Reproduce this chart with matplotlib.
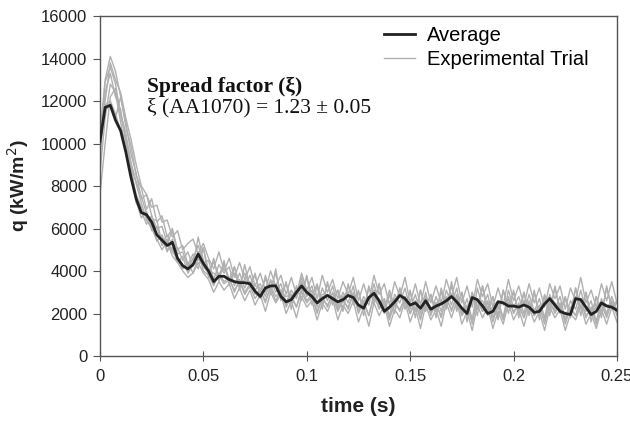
import numpy as np
import matplotlib
matplotlib.use("Agg")
import matplotlib.pyplot as plt

# heat flux in 1000 kW/m2, sampled every 0.0025 s from 0 to 0.25 s
average = [10.1, 11.7, 11.8, 11.1, 10.6, 9.6, 8.4, 7.4, 6.75, 6.65,
           6.3, 5.7, 5.45, 5.2, 5.35, 4.6, 4.25, 4.1, 4.3, 4.8,
           4.35, 4.0, 3.5, 3.75, 3.75, 3.6, 3.5, 3.45, 3.45, 3.4,
           3.05, 2.8, 3.2, 3.3, 3.3, 2.8, 2.55, 2.65, 3.0, 3.3,
           3.0, 2.8, 2.5, 2.7, 2.85, 2.7, 2.55, 2.65, 2.85, 2.75,
           2.4, 2.25, 2.75, 2.95, 2.6, 2.1, 2.3, 2.55, 2.85, 2.7,
           2.4, 2.5, 2.25, 2.6, 2.2, 2.35, 2.45, 2.6, 2.8, 2.55,
           2.25, 2.0, 2.75, 2.65, 2.35, 2.0, 2.1, 2.55, 2.5, 2.35,
           2.35, 2.3, 2.4, 2.3, 2.05, 2.1, 2.45, 2.7, 2.4, 2.1,
           2.0, 1.95, 2.7, 2.65, 2.3, 1.95, 2.1, 2.5, 2.35, 2.3, 2.15]

trial_a = [10.4, 13.0, 14.1, 13.4, 12.2, 11.0, 9.5, 8.6, 7.4, 7.6, 6.6, 6.0, 6.1, 5.3, 5.9, 4.8, 4.9, 4.2, 4.6, 5.2,
           4.4, 4.5, 3.6, 4.3, 3.9, 4.2, 3.3, 3.9, 3.2, 3.8, 3.1, 3.4, 2.8, 3.6, 3.0, 3.4, 2.5, 3.1, 2.7, 3.7,
           2.9, 3.3, 2.3, 3.2, 2.6, 3.3, 2.3, 3.0, 2.5, 3.3, 2.1, 2.8, 2.4, 3.4, 2.4, 2.7, 1.9, 2.9, 2.5, 3.2,
           2.2, 2.9, 2.0, 3.0, 1.9, 2.8, 2.1, 3.1, 2.4, 3.2, 2.0, 2.7, 1.7, 3.2, 2.3, 2.9, 1.8, 2.6, 1.8, 3.1,
           2.3, 2.8, 2.0, 2.9, 2.1, 2.7, 1.8, 2.9, 2.2, 2.8, 1.7, 2.6, 2.2, 3.1, 2.1, 2.6, 1.6, 2.7, 2.0, 2.8, 2.1]
trial_b = [7.6, 10.0, 12.2, 12.6, 11.4, 10.5, 9.0, 8.1, 7.2, 6.4, 6.0, 5.5, 5.0, 5.4, 4.7, 4.4, 4.0, 3.7, 3.9, 4.4,
           3.9, 3.6, 3.0, 3.5, 3.1, 3.4, 2.7, 3.2, 2.6, 3.1, 2.4, 2.9, 2.1, 3.0, 2.5, 2.9, 2.0, 2.6, 1.8, 2.8,
           2.3, 2.6, 1.7, 2.5, 2.1, 2.7, 1.7, 2.4, 2.0, 2.6, 1.6, 2.3, 1.4, 2.5, 1.9, 2.4, 1.4, 2.2, 1.8, 2.6,
           1.6, 2.3, 1.3, 2.4, 1.7, 2.2, 1.4, 2.5, 1.8, 2.6, 1.5, 2.1, 1.2, 2.4, 1.8, 2.3, 1.3, 2.1, 1.5, 2.5,
           1.7, 2.2, 1.4, 2.3, 1.6, 2.1, 1.2, 2.3, 1.8, 2.2, 1.2, 2.0, 1.7, 2.4, 1.5, 2.0, 1.3, 2.2, 1.5, 2.3, 1.6]
trial_c = [9.8, 12.4, 13.3, 12.2, 11.6, 10.0, 8.9, 7.2, 6.8, 6.2, 6.6, 5.7, 5.6, 4.9, 5.5, 4.6, 4.3, 4.0, 4.6, 4.1,
           5.1, 3.7, 4.6, 3.5, 4.5, 3.3, 4.2, 3.1, 4.3, 3.2, 3.9, 2.7, 3.8, 2.9, 4.1, 2.6, 3.5, 2.2, 3.3, 2.6,
           3.8, 2.4, 3.3, 2.2, 3.5, 2.4, 3.1, 2.1, 3.4, 2.4, 3.1, 1.9, 3.3, 2.4, 3.4, 2.0, 2.9, 2.0, 3.2, 2.2,
           3.1, 1.8, 3.1, 2.1, 2.9, 1.8, 3.2, 2.2, 3.5, 2.1, 3.0, 1.6, 3.0, 1.9, 3.3, 1.9, 2.8, 1.7, 3.1, 2.0,
           3.1, 1.8, 3.0, 1.9, 3.1, 1.7, 2.8, 1.9, 3.3, 2.0, 2.7, 1.8, 3.2, 1.9, 3.0, 1.6, 2.8, 1.8, 3.3, 2.2, 2.5]
trial_d = [10.7, 11.5, 11.9, 11.2, 12.2, 10.8, 9.9, 8.5, 7.9, 6.9, 7.4, 6.3, 6.6, 5.6, 6.0, 5.0, 5.2, 4.3, 4.8, 4.5,
           5.1, 4.0, 4.4, 3.8, 4.3, 3.6, 4.2, 3.4, 3.9, 3.3, 3.8, 3.0, 3.6, 3.2, 3.9, 2.9, 3.4, 2.7, 3.2, 3.0,
           3.7, 2.8, 3.4, 2.5, 3.4, 2.6, 3.1, 2.5, 3.3, 2.7, 3.0, 2.2, 3.2, 2.6, 3.4, 2.2, 3.1, 2.3, 3.2, 2.5,
           3.0, 2.1, 3.1, 2.3, 2.9, 2.1, 3.0, 2.3, 3.3, 2.3, 3.0, 1.9, 3.0, 2.2, 3.3, 2.2, 2.8, 1.9, 3.1, 2.3,
           3.0, 2.0, 3.0, 2.1, 3.0, 1.9, 2.9, 2.2, 3.2, 2.2, 2.8, 2.0, 3.2, 2.2, 3.0, 1.9, 2.8, 2.0, 3.2, 2.3, 2.6]
trial_e = [8.6, 11.2, 12.8, 12.4, 11.0, 9.6, 8.7, 7.6, 7.0, 6.5, 6.1, 5.4, 5.7, 5.0, 5.1, 4.4, 4.7, 3.9, 4.3, 4.9,
           4.0, 3.8, 3.3, 3.9, 3.5, 3.7, 3.0, 3.6, 3.0, 3.4, 2.9, 3.1, 2.5, 3.3, 2.8, 3.1, 2.4, 2.9, 2.3, 3.2,
           2.6, 2.9, 2.0, 2.8, 2.3, 3.0, 2.2, 2.7, 2.2, 3.0, 2.0, 2.6, 1.9, 2.9, 2.2, 2.6, 1.7, 2.6, 2.1, 2.8,
           2.0, 2.6, 1.7, 2.7, 2.0, 2.5, 1.8, 2.8, 2.1, 2.9, 1.9, 2.4, 1.5, 2.7, 2.1, 2.6, 1.6, 2.4, 1.7, 2.8,
           2.0, 2.5, 1.8, 2.6, 1.9, 2.4, 1.5, 2.6, 2.0, 2.5, 1.5, 2.3, 1.9, 2.7, 1.8, 2.3, 1.5, 2.5, 1.8, 2.6, 1.9]
trial_f = [10.0, 12.9, 13.6, 12.8, 11.3, 10.3, 9.1, 8.2, 7.5, 6.7, 6.4, 6.4, 5.3, 5.7, 5.2, 5.1, 4.5, 4.9, 4.2, 5.6,
           4.5, 4.0, 3.9, 3.7, 4.4, 3.5, 3.9, 3.3, 3.6, 3.5, 3.3, 3.2, 3.0, 3.5, 3.3, 3.0, 2.8, 2.9, 2.8, 3.5,
           2.8, 3.1, 2.5, 2.9, 2.9, 2.8, 2.5, 2.8, 2.9, 2.7, 2.3, 2.6, 2.7, 3.1, 2.6, 2.4, 2.2, 2.7, 2.8, 2.8,
           2.3, 2.6, 2.2, 2.8, 2.2, 2.5, 2.5, 2.7, 2.9, 2.6, 2.2, 2.1, 2.9, 2.6, 2.6, 2.1, 2.3, 2.6, 2.5, 2.5,
           2.4, 2.2, 2.6, 2.3, 2.2, 2.2, 2.6, 2.8, 2.5, 2.2, 2.0, 2.2, 2.8, 2.7, 2.3, 2.0, 2.3, 2.6, 2.4, 2.4, 2.2]
trial_g = [10.2, 11.8, 12.0, 11.4, 10.6, 10.2, 8.9, 7.3, 6.5, 6.8, 5.9, 6.1, 5.2, 5.5, 4.9, 4.6, 4.1, 4.4, 3.9, 4.6,
           4.2, 3.9, 3.4, 3.8, 3.4, 3.6, 3.1, 3.5, 2.9, 3.3, 2.7, 3.1, 2.6, 3.2, 2.6, 3.1, 2.3, 2.8, 2.3, 3.0,
           2.5, 2.8, 2.1, 2.7, 2.4, 2.8, 2.1, 2.6, 2.3, 2.9, 2.1, 2.5, 1.9, 2.8, 2.3, 2.5, 1.8, 2.4, 2.2, 2.7,
           2.0, 2.5, 1.8, 2.6, 2.0, 2.4, 1.9, 2.7, 2.2, 2.7, 1.9, 2.3, 1.7, 2.6, 2.1, 2.5, 1.8, 2.3, 1.8, 2.7,
           2.1, 2.4, 1.8, 2.5, 1.9, 2.3, 1.7, 2.5, 2.1, 2.4, 1.7, 2.2, 1.9, 2.6, 1.9, 2.2, 1.6, 2.4, 1.9, 2.5, 2.0]
trial_h = [9.3, 12.0, 13.8, 13.0, 12.4, 11.2, 10.2, 9.0, 8.0, 7.6, 7.0, 7.1, 6.3, 6.4, 5.6, 5.9, 5.0, 5.3, 5.5, 4.8,
           5.3, 4.6, 4.1, 4.9, 4.0, 4.6, 3.7, 4.4, 3.6, 4.2, 3.3, 3.9, 3.1, 4.0, 3.3, 3.8, 2.9, 3.7, 2.9, 3.9,
           3.1, 3.7, 2.7, 3.8, 3.0, 3.6, 2.7, 3.5, 2.9, 3.7, 2.6, 3.4, 2.6, 3.8, 2.9, 3.4, 2.4, 3.5, 2.8, 3.7,
           2.5, 3.4, 2.4, 3.5, 2.5, 3.3, 2.5, 3.6, 2.8, 3.7, 2.5, 3.3, 2.3, 3.6, 2.8, 3.4, 2.3, 3.2, 2.4, 3.6,
           2.6, 3.3, 2.4, 3.4, 2.5, 3.2, 2.3, 3.4, 2.7, 3.3, 2.2, 3.2, 2.6, 3.7, 2.5, 3.1, 2.3, 3.4, 2.6, 3.5, 2.5]

trials = [trial_a, trial_b, trial_c, trial_d, trial_e, trial_f, trial_g, trial_h]

x_ticks = [0, 0.05, 0.1, 0.15, 0.2, 0.25]
x_labels = ["0", "0.05", "0.1", "0.15", "0.2", "0.25"]
y_ticks = [0, 2000, 4000, 6000, 8000, 10000, 12000, 14000, 16000]

fig = plt.figure(figsize=(6.3, 4.23), dpi=100)
ax = fig.add_axes([0.1587, 0.1584, 0.8206, 0.8037])

for i, tr in enumerate(trials):
    t = np.linspace(0, 0.25, len(tr))
    ax.plot(t, np.array(tr) * 1000, color="#b0b0b0", lw=1.0,
            label="Experimental Trial" if i == 0 else None, zorder=2)

t_avg = np.linspace(0, 0.25, len(average))
ax.plot(t_avg, np.array(average) * 1000, color="#222222", lw=2.0,
        label="Average", zorder=3)

ax.set_xlim(0, 0.25)
ax.set_ylim(0, 16000)
ax.set_xticks(x_ticks)
ax.set_xticklabels(x_labels)
ax.set_yticks(y_ticks)

for sp in ax.spines.values():
    sp.set_color("#555555")
    sp.set_linewidth(1.0)
ax.tick_params(axis="x", direction="inout", length=7, color="#555555",
               labelsize=12, labelcolor="#222222", pad=6)
ax.tick_params(axis="y", direction="out", length=5, color="#555555",
               labelsize=12, labelcolor="#222222", pad=4)
for lab in ax.get_xticklabels() + ax.get_yticklabels():
    lab.set_family("Liberation Sans")

ax.set_xlabel("time (s)", family="Liberation Sans", fontsize=15,
              fontweight="bold", color="#222222", labelpad=9)
ax.set_ylabel("q (kW/m$^2$)", family="Liberation Sans", fontsize=14,
              fontweight="bold", color="#222222", labelpad=7)

handles, labels = ax.get_legend_handles_labels()
ax.legend(handles[::-1], labels[::-1], loc="upper left",
          bbox_to_anchor=(0.53, 1.0), frameon=False,
          prop={"family": "Liberation Sans", "size": 14.5},
          handlelength=1.55, handletextpad=0.6, borderpad=0,
          labelspacing=0.25)

ax.text(0.0225, 12650, "Spread factor (\u03be)", family="Liberation Serif",
        fontsize=15.5, fontweight="bold", va="center", ha="left", color="#111111")
ax.text(0.0225, 11700, "\u03be (AA1070) = 1.23 \u00b1 0.05",
        family="Liberation Serif", fontsize=15.5, va="center", ha="left",
        color="#111111")

fig.savefig("out.png", dpi=100)
